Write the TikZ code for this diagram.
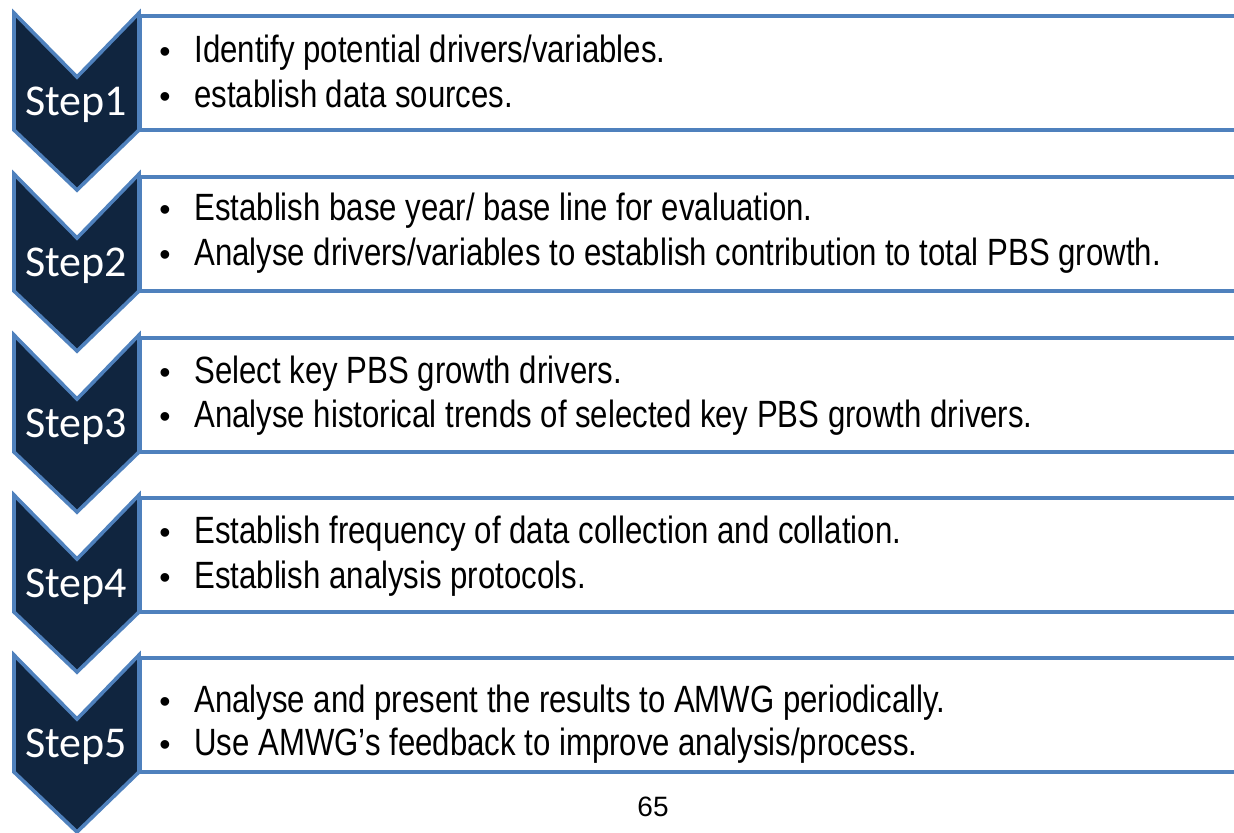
\documentclass[tikz,border=0pt]{standalone}
\usepackage{fontspec}
\setmainfont{Liberation Sans}[FakeStretch=0.82]
\newfontfamily\arialfont{Liberation Sans}
\newfontfamily\stepfont{Carlito}
\usepackage{xcolor}
\usepackage{tikz}

\definecolor{stepblue}{HTML}{4F81BD}
\definecolor{stepnavy}{HTML}{10253F}

\newcommand{\bul}{\makebox[17.5pt][l]{\arialfont\fontsize{16}{18}\selectfont •}}

\tikzset{
    boxline/.style={stepblue, line width=2pt},
    chevron/.style={draw=stepblue, fill=stepnavy, line width=1.8pt, line join=miter},
    steplabel/.style={anchor=base, inner sep=0, text=white, font=\stepfont\fontsize{22}{26}\selectfont},
    bulletline/.style={anchor=base west, inner sep=0, font=\fontsize{19}{22}\selectfont},
    pagenum/.style={anchor=base, inner sep=0, font=\arialfont\fontsize{14}{16}\selectfont}
}

\begin{document}
\begin{tikzpicture}[x=0.5pt, y=-0.5pt]
\useasboundingbox (0,0) rectangle (1234,832);

% Draw the chevrons and the boxes
\foreach \i/\t in {1/13, 2/174, 3/335, 4/495, 5/655}
{
    \draw[boxline] (1234, \t+3) -- (140, \t+3) -- (140, \t+117) -- (1234, \t+117);
    \draw[chevron] (14, \t) -- (77, \t+64) -- (139, \t) -- (139, \t+117) -- (77, \t+177) -- (14, \t+117) -- cycle;
    \node[steplabel] (step\i) at (76, \t+102) {Step\i};
}

% Add the bullet lines
\node[bulletline] (item1a) at (159, 62) {\bul Identify potential drivers/variables.};
\node[bulletline] (item1b) at (159, 107) {\bul establish data sources.};
\node[bulletline] (item2a) at (159, 220) {\bul Establish base year/ base line for evaluation.};
\node[bulletline] (item2b) at (159, 265) {\bul Analyse drivers/variables to establish contribution to total PBS growth.};
\node[bulletline] (item3a) at (159, 383) {\bul Select key PBS growth drivers.};
\node[bulletline] (item3b) at (159, 427) {\bul Analyse historical trends of selected key PBS growth drivers.};
\node[bulletline] (item4a) at (159, 543) {\bul Establish frequency of data collection and collation.};
\node[bulletline] (item4b) at (159, 588) {\bul Establish analysis protocols.};
\node[bulletline] (item5a) at (159, 712) {\bul Analyse and present the results to AMWG periodically.};
\node[bulletline] (item5b) at (159, 755) {\bul Use AMWG's feedback to improve analysis/process.};

% Add page number
\node[pagenum] (page) at (653, 816) {65};

\end{tikzpicture}
\end{document}
